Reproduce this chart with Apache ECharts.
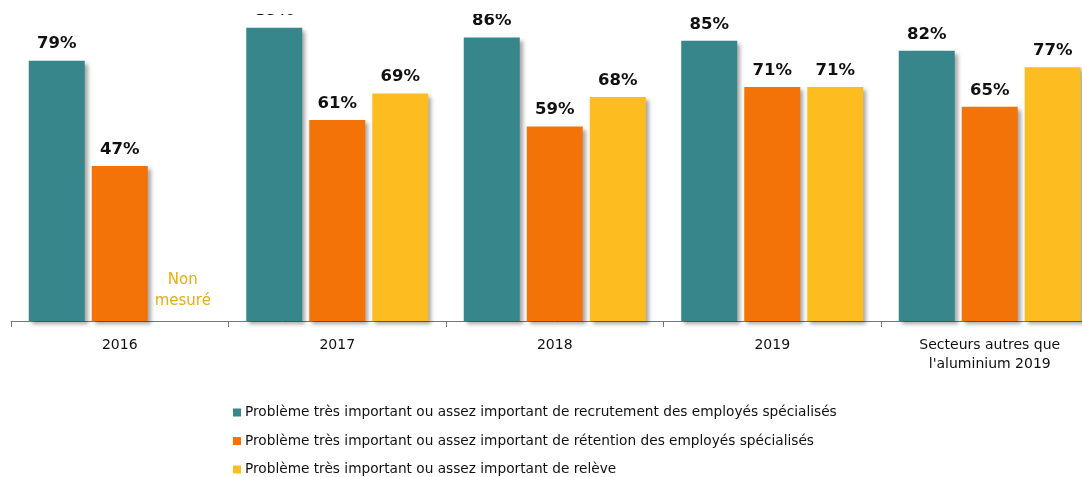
<!DOCTYPE html>
<html><head><meta charset="utf-8">
<script src="https://cdn.jsdelivr.net/npm/echarts@6/dist/echarts.min.js"></script>
<style>html,body{margin:0;padding:0;background:#fff;overflow:hidden;width:1082px;height:477px}#c{width:1099px;height:477px}</style>
</head><body><div id="c"></div>
<script>
const categories = ['2016', '2017', '2018', '2019', 'Secteurs autres que\nl\'aluminium 2019'];
const seriesNames = [
  'Problème très important ou assez important de recrutement des employés spécialisés',
  'Problème très important ou assez important de rétention des employés spécialisés',
  'Problème très important ou assez important de relève'
];
const recrutement = [79, 89, 86, 85, 82];
const retention = [47, 61, 59, 71, 65];
const releve = [null, 69, 68, 71, 77];
const notMeasuredText = 'Non\nmesuré';
const colors = ['#37868B', '#F47309', '#FDBD21'];

const chart = echarts.init(document.getElementById('c'));
const barCommon = {
  type: 'bar',
  barWidth: 56,
  barGap: '12.5%',
  itemStyle: { shadowColor: 'rgba(0,0,0,0.35)', shadowBlur: 4, shadowOffsetX: 3, shadowOffsetY: 3 },
  label: {
    show: true, position: 'top', distance: 8,
    fontFamily: 'DejaVu Sans', fontWeight: 'bold', fontSize: 16.5, color: '#111',
    formatter: p => p.value + '%'
  }
};
const releveData = releve.map(v => v === null ? {
  value: 0,
  label: { formatter: notMeasuredText, color: '#E6AE0E', fontWeight: 'normal', fontFamily: 'DejaVu Sans', fontSize: 15, lineHeight: 21, distance: 9 }
} : v);

const legendTops = [400.5, 429, 457.5];
const legends = seriesNames.map((n, i) => ({
  orient: 'vertical', left: 228, top: legendTops[i],
  itemWidth: 8, itemHeight: 8, icon: 'rect', itemGap: 0,
  itemStyle: { shadowBlur: 0, shadowOffsetX: 0, shadowOffsetY: 0 },
  textStyle: { fontFamily: 'DejaVu Sans', fontSize: 13.7, color: '#111', padding: [0, 0, 0, -1] },
  data: [n]
}));

chart.setOption({
  animation: false,
  color: colors,
  grid: { left: 11, right: 0.5, top: 0, height: 321 },
  xAxis: {
    type: 'category', data: categories,
    axisLine: { lineStyle: { color: '#777', width: 1 } },
    axisTick: { show: true, length: 6, lineStyle: { color: '#777' } },
    axisLabel: { color: '#111', fontFamily: 'DejaVu Sans', fontSize: 14, lineHeight: 19, margin: 15 }
  },
  yAxis: { type: 'value', min: 0, max: 97.4, show: false, splitLine: { show: false } },
  legend: legends,
  series: [
    Object.assign({}, barCommon, { name: seriesNames[0], data: recrutement }),
    Object.assign({}, barCommon, { name: seriesNames[1], data: retention }),
    Object.assign({}, barCommon, { name: seriesNames[2], data: releveData })
  ],
  graphic: [{ type: 'rect', shape: { x: 0, y: 0, width: 1099, height: 14 }, style: { fill: '#fff' }, z: 100 }]
});
</script></body></html>
